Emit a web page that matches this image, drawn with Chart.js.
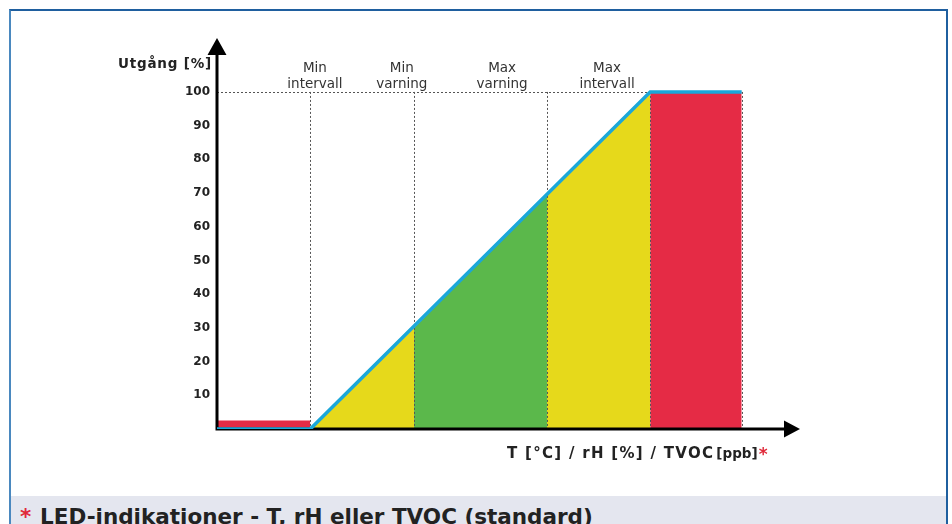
<!DOCTYPE html>
<html>
<head>
<meta charset="utf-8">
<script src="https://cdn.jsdelivr.net/npm/chart.js@4/dist/chart.umd.min.js"></script>
<style>
  html, body { margin: 0; padding: 0; background: #fff; overflow: hidden; }
  #wrap { position: relative; width: 952px; height: 524px; overflow: hidden; }
  #frame { position: absolute; left: 9px; top: 9px; width: 935px; height: 600px;
    border-top: 2px solid #1f5f9f; border-left: 2px solid #4a88bf; border-right: 2px solid #1f5f9f; }
  #banner { position: absolute; left: 11px; top: 496px; width: 935px; height: 40px; background: #e4e6ef;
    font: bold 21.5px "DejaVu Sans", sans-serif; color: #222; white-space: nowrap; }
  #banner span.txt { position: absolute; left: 29px; top: 8px; }
  #banner span.star { position: absolute; left: 9px; top: 8px; color: #e02a3a; }
  canvas { position: absolute; left: 0; top: 0; }
</style>
</head>
<body>
<div id="wrap">
  <div id="frame"></div>
  <div id="banner"><span class="star">*</span><span class="txt">LED-indikationer - T, rH eller TVOC (standard)</span></div>
  <canvas id="ledChart" width="952" height="524"></canvas>
</div>
<script>
// zones along the x axis (no units shown on the axis)
const zoneNames = [["Min", "intervall"], ["Min", "varning"], ["Max", "varning"], ["Max", "intervall"]];
const zoneX = [16, 33.8, 56.6, 74.3];
const zoneY = [0, 30, 70, 100];
const endX = 90;
const lowLevel = 2.5;
const yTicks = [10, 20, 30, 40, 50, 60, 70, 80, 90, 100];
const yTitle = "Utgång [%]";
const xTitle = ["T [°C] / rH [%] / TVOC", "[ppb]", "*"];

const YELLOW = "#e6d91b";
const GREEN = "#5bb84b";
const RED = "#e52b45";
const CYAN = "#1ba7d9";

function seg(x1, y1, x2, y2) {
  return [{ x: x1, y: y1 }, { x: x2, y: y2 }];
}

function fillSet(points, color) {
  return {
    data: points,
    backgroundColor: color,
    borderWidth: 0,
    pointRadius: 0,
    fill: "origin",
    order: 1
  };
}

const datasets = [
  fillSet(seg(0, lowLevel, zoneX[0], lowLevel), RED),
  fillSet(seg(zoneX[0], zoneY[0], zoneX[1], zoneY[1]), YELLOW),
  fillSet(seg(zoneX[1], zoneY[1], zoneX[2], zoneY[2]), GREEN),
  fillSet(seg(zoneX[2], zoneY[2], zoneX[3], zoneY[3]), YELLOW),
  fillSet(seg(zoneX[3], zoneY[3], endX, zoneY[3]), RED),
  {
    data: [{ x: 0, y: 0 }, { x: zoneX[0], y: 0 }, { x: zoneX[3], y: 100 }, { x: endX, y: 100 }],
    borderColor: CYAN,
    borderWidth: 3.5,
    pointRadius: 0,
    fill: false,
    order: 0
  }
];

// dashed guides, axes with arrows, titles and zone labels (drawn after the last fill, before the blue line)
const decor = {
  id: "decor",
  afterDatasetDraw(chart, args) {
    if (args.index !== 0) return;
    const ctx = chart.ctx;
    const xs = chart.scales.x, ys = chart.scales.y;
    const x0 = xs.getPixelForValue(0), y0 = ys.getPixelForValue(0);
    const y100 = ys.getPixelForValue(100);
    const top = chart.chartArea.top, right = chart.chartArea.right;

    ctx.save();
    ctx.strokeStyle = "#555";
    ctx.lineWidth = 1;
    ctx.setLineDash([2, 2]);
    ctx.beginPath();
    ctx.moveTo(x0, Math.round(y100) + 0.5);
    ctx.lineTo(xs.getPixelForValue(zoneX[3]), Math.round(y100) + 0.5);
    [...zoneX, endX].forEach(v => {
      const px = Math.round(xs.getPixelForValue(v)) + 0.5;
      ctx.moveTo(px, y100);
      ctx.lineTo(px, y0);
    });
    ctx.stroke();
    ctx.setLineDash([]);

    // axes
    ctx.strokeStyle = "#000";
    ctx.fillStyle = "#000";
    ctx.lineWidth = 3;
    ctx.beginPath();
    ctx.moveTo(x0, y0 + 1.5);
    ctx.lineTo(x0, top + 14);
    ctx.moveTo(x0 - 1.5, y0);
    ctx.lineTo(right - 14, y0);
    ctx.stroke();
    ctx.beginPath();
    ctx.moveTo(x0, top);
    ctx.lineTo(x0 - 9.5, top + 17);
    ctx.lineTo(x0 + 9.5, top + 17);
    ctx.closePath();
    ctx.moveTo(right, y0);
    ctx.lineTo(right - 16, y0 - 8.5);
    ctx.lineTo(right - 16, y0 + 8.5);
    ctx.closePath();
    ctx.fill();

    // zone labels
    const labelX = [16.8, 31.7, 48.9, 66.9];
    ctx.fillStyle = "#333";
    ctx.font = "13.5px 'DejaVu Sans'";
    ctx.textAlign = "center";
    ctx.textBaseline = "alphabetic";
    zoneNames.forEach((lines, i) => {
      const px = xs.getPixelForValue(labelX[i]);
      ctx.fillText(lines[0], px, 72);
      ctx.fillText(lines[1], px, 88);
    });

    // axis titles
    ctx.fillStyle = "#222";
    ctx.font = "bold 13.5px 'DejaVu Sans'";
    ctx.letterSpacing = "0.8px";
    ctx.textAlign = "right";
    ctx.fillText(yTitle, 212, 68);

    ctx.textAlign = "left";
    ctx.font = "bold 15px 'DejaVu Sans'";
    ctx.letterSpacing = "1.3px";
    let tx = 507;
    ctx.fillText(xTitle[0], tx, 458);
    tx += ctx.measureText(xTitle[0]).width + 2;
    ctx.font = "bold 13.5px 'DejaVu Sans'";
    ctx.letterSpacing = "0px";
    ctx.fillText(xTitle[1], tx, 458);
    tx += ctx.measureText(xTitle[1]).width + 1;
    ctx.fillStyle = "#e02a3a";
    ctx.font = "bold 17px 'DejaVu Sans'";
    ctx.fillText(xTitle[2], tx, 460);
    ctx.restore();
  }
};

const chart = new Chart(document.getElementById("ledChart"), {
  type: "line",
  data: { datasets: datasets },
  plugins: [decor],
  options: {
    responsive: false,
    animation: false,
    layout: { padding: { left: 0, top: 38, right: 152, bottom: 95 } },
    plugins: {
      legend: { display: false },
      tooltip: { enabled: false }
    },
    scales: {
      x: {
        type: "linear",
        min: 0,
        max: 100,
        display: false
      },
      y: {
        min: 0,
        max: 116,
        grid: { display: false, drawTicks: false },
        border: { display: false },
        afterBuildTicks: s => { s.ticks = yTicks.map(v => ({ value: v })); },
        afterFit: s => { s.width = 217; },
        ticks: {
          padding: 7,
          color: "#222",
          font: { family: "DejaVu Sans", size: 12, weight: "bold" }
        }
      }
    }
  }
});
</script>
</body>
</html>
